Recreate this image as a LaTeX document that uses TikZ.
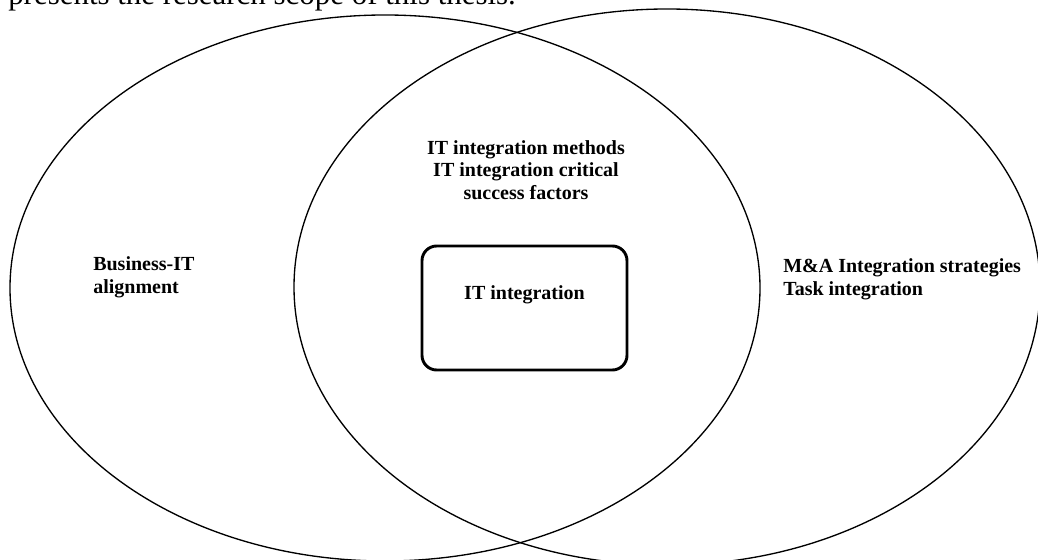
\documentclass[tikz,border=0pt]{standalone}
\usepackage{fontspec}
\setmainfont{Liberation Serif}
\usetikzlibrary{positioning}

\begin{document}
\begin{tikzpicture}[x=0.75pt,y=0.75pt,
        lbl/.style={font=\bfseries\fontsize{15}{17}\selectfont, inner sep=0pt},
        ring/.style={line width=1pt}]
    \useasboundingbox (0,0) rectangle (1038,560);
    \begin{scope}
        \clip (0,0) rectangle (1038,560);
        \node[anchor=base west, inner sep=0pt, font=\fontsize{23.2}{26}\selectfont] (intro) at (8,555.5) {presents the research scope of this thesis.};
        \draw[ring] (385,272) ellipse [x radius=375, y radius=273];
        \draw[ring] (667,273) ellipse [x radius=373, y radius=278];
    \end{scope}
    \draw[line width=2.2pt, rounded corners=11pt] (422,314) rectangle (627,190);
    \node[lbl] (core) at (524.5,265) {IT integration};
    \node[lbl, align=center] (methods) at (526,390) {IT integration methods\\IT integration critical\\success factors};
    \node[lbl, align=left, anchor=west] (bita) at (93,283) {Business-IT\\alignment};
    \node[lbl, align=left, anchor=west] (mna) at (783,281) {M\&A Integration strategies\\Task integration};
\end{tikzpicture}
\end{document}
